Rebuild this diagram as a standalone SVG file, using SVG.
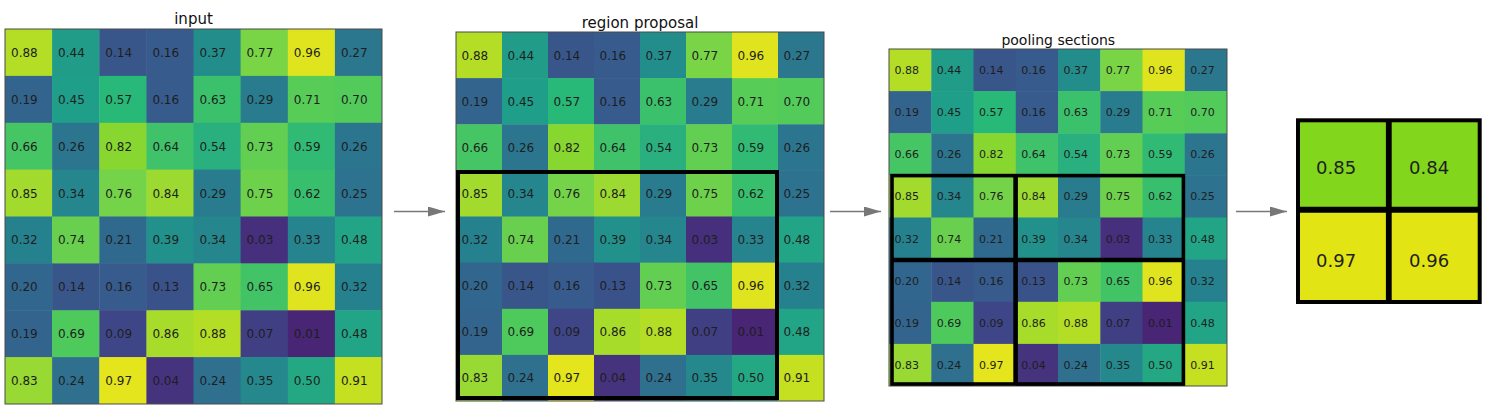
<svg xmlns="http://www.w3.org/2000/svg" width="1500" height="416" viewBox="0 0 1500 416">
<style>
text{font-family:"DejaVu Sans","Liberation Sans",sans-serif;fill:#1e1e1e}
.title{font-size:15px;text-anchor:middle;fill:#111}
.t1{font-size:12px}
.t3{font-size:11px}
.t4{font-size:18px}
.frame{fill:none;stroke:#4a4a4a;stroke-width:1}
.box{fill:none;stroke:#000}
.conn{stroke:#777;stroke-width:1.6;fill:none}
.c01{fill:#482575}.c03{fill:#462f7c}.c04{fill:#45337e}.c07{fill:#413f84}.c09{fill:#3f4687}
.c13{fill:#3a528a}.c14{fill:#39568b}.c16{fill:#365b8c}.c19{fill:#33648d}.c20{fill:#31678e}
.c21{fill:#30698e}.c24{fill:#2e708e}.c25{fill:#2d728e}.c26{fill:#2c758e}.c27{fill:#2b778e}
.c29{fill:#297b8e}.c32{fill:#26818e}.c33{fill:#26848e}.c34{fill:#25868d}.c35{fill:#24888d}
.c37{fill:#238d8c}.c39{fill:#22918b}.c44{fill:#209c89}.c45{fill:#1f9e89}.c48{fill:#22a586}
.c50{fill:#24a884}.c54{fill:#29b07e}.c57{fill:#28b877}.c59{fill:#30ba74}.c62{fill:#38bf6d}
.c63{fill:#3bc16b}.c64{fill:#3fc269}.c65{fill:#42c466}.c66{fill:#46c564}.c69{fill:#4ec95c}
.c70{fill:#52cb5a}.c71{fill:#57cc57}.c73{fill:#63cf52}.c74{fill:#69d04f}.c75{fill:#6ed14c}
.c76{fill:#74d349}.c77{fill:#79d446}.c82{fill:#88d630}.c83{fill:#98d934}.c84{fill:#9dda31}
.c85{fill:#a2db2e}.c86{fill:#a8dc2b}.c88{fill:#b4de26}.c91{fill:#c4e021}.c96{fill:#e0e41e}.c97{fill:#e4e51c}
.o1{fill:#82d61c}.o2{fill:#e3e414}
</style>
<defs>
<marker id="ah" viewBox="0 0 17 10" refX="17" refY="5" markerWidth="17" markerHeight="10" markerUnits="userSpaceOnUse" orient="auto">
<path d="M0,0 L17,5 L0,10 z" fill="#777"/>
</marker>
</defs>

<g id="input">
<text class="title" x="193.5" y="24">input</text>
<g id="input-cells">
<rect class="c88" x="5" y="29" width="47.6" height="47.4"/><rect class="c44" x="52.1" y="29" width="47.6" height="47.4"/><rect class="c14" x="99.3" y="29" width="47.6" height="47.4"/><rect class="c16" x="146.4" y="29" width="47.6" height="47.4"/><rect class="c37" x="193.5" y="29" width="47.6" height="47.4"/><rect class="c77" x="240.6" y="29" width="47.6" height="47.4"/><rect class="c96" x="287.8" y="29" width="47.6" height="47.4"/><rect class="c27" x="334.9" y="29" width="47.1" height="47.4"/>
<rect class="c19" x="5" y="75.9" width="47.6" height="47.4"/><rect class="c45" x="52.1" y="75.9" width="47.6" height="47.4"/><rect class="c57" x="99.3" y="75.9" width="47.6" height="47.4"/><rect class="c16" x="146.4" y="75.9" width="47.6" height="47.4"/><rect class="c63" x="193.5" y="75.9" width="47.6" height="47.4"/><rect class="c29" x="240.6" y="75.9" width="47.6" height="47.4"/><rect class="c71" x="287.8" y="75.9" width="47.6" height="47.4"/><rect class="c70" x="334.9" y="75.9" width="47.1" height="47.4"/>
<rect class="c66" x="5" y="122.8" width="47.6" height="47.4"/><rect class="c26" x="52.1" y="122.8" width="47.6" height="47.4"/><rect class="c82" x="99.3" y="122.8" width="47.6" height="47.4"/><rect class="c64" x="146.4" y="122.8" width="47.6" height="47.4"/><rect class="c54" x="193.5" y="122.8" width="47.6" height="47.4"/><rect class="c73" x="240.6" y="122.8" width="47.6" height="47.4"/><rect class="c59" x="287.8" y="122.8" width="47.6" height="47.4"/><rect class="c26" x="334.9" y="122.8" width="47.1" height="47.4"/>
<rect class="c85" x="5" y="169.6" width="47.6" height="47.4"/><rect class="c34" x="52.1" y="169.6" width="47.6" height="47.4"/><rect class="c76" x="99.3" y="169.6" width="47.6" height="47.4"/><rect class="c84" x="146.4" y="169.6" width="47.6" height="47.4"/><rect class="c29" x="193.5" y="169.6" width="47.6" height="47.4"/><rect class="c75" x="240.6" y="169.6" width="47.6" height="47.4"/><rect class="c62" x="287.8" y="169.6" width="47.6" height="47.4"/><rect class="c25" x="334.9" y="169.6" width="47.1" height="47.4"/>
<rect class="c32" x="5" y="216.5" width="47.6" height="47.4"/><rect class="c74" x="52.1" y="216.5" width="47.6" height="47.4"/><rect class="c21" x="99.3" y="216.5" width="47.6" height="47.4"/><rect class="c39" x="146.4" y="216.5" width="47.6" height="47.4"/><rect class="c34" x="193.5" y="216.5" width="47.6" height="47.4"/><rect class="c03" x="240.6" y="216.5" width="47.6" height="47.4"/><rect class="c33" x="287.8" y="216.5" width="47.6" height="47.4"/><rect class="c48" x="334.9" y="216.5" width="47.1" height="47.4"/>
<rect class="c20" x="5" y="263.4" width="47.6" height="47.4"/><rect class="c14" x="52.1" y="263.4" width="47.6" height="47.4"/><rect class="c16" x="99.3" y="263.4" width="47.6" height="47.4"/><rect class="c13" x="146.4" y="263.4" width="47.6" height="47.4"/><rect class="c73" x="193.5" y="263.4" width="47.6" height="47.4"/><rect class="c65" x="240.6" y="263.4" width="47.6" height="47.4"/><rect class="c96" x="287.8" y="263.4" width="47.6" height="47.4"/><rect class="c32" x="334.9" y="263.4" width="47.1" height="47.4"/>
<rect class="c19" x="5" y="310.3" width="47.6" height="47.4"/><rect class="c69" x="52.1" y="310.3" width="47.6" height="47.4"/><rect class="c09" x="99.3" y="310.3" width="47.6" height="47.4"/><rect class="c86" x="146.4" y="310.3" width="47.6" height="47.4"/><rect class="c88" x="193.5" y="310.3" width="47.6" height="47.4"/><rect class="c07" x="240.6" y="310.3" width="47.6" height="47.4"/><rect class="c01" x="287.8" y="310.3" width="47.6" height="47.4"/><rect class="c48" x="334.9" y="310.3" width="47.1" height="47.4"/>
<rect class="c83" x="5" y="357.1" width="47.6" height="46.9"/><rect class="c24" x="52.1" y="357.1" width="47.6" height="46.9"/><rect class="c97" x="99.3" y="357.1" width="47.6" height="46.9"/><rect class="c04" x="146.4" y="357.1" width="47.6" height="46.9"/><rect class="c24" x="193.5" y="357.1" width="47.6" height="46.9"/><rect class="c35" x="240.6" y="357.1" width="47.6" height="46.9"/><rect class="c50" x="287.8" y="357.1" width="47.6" height="46.9"/><rect class="c91" x="334.9" y="357.1" width="47.1" height="46.9"/>
</g>
<rect class="frame" x="5" y="29" width="377" height="375"/>
<g id="input-labels" class="t1">
<text x="11" y="56.8">0.88</text><text x="58.1" y="56.8">0.44</text><text x="105.3" y="56.8">0.14</text><text x="152.4" y="56.8">0.16</text><text x="199.5" y="56.8">0.37</text><text x="246.6" y="56.8">0.77</text><text x="293.8" y="56.8">0.96</text><text x="340.9" y="56.8">0.27</text>
<text x="11" y="103.7">0.19</text><text x="58.1" y="103.7">0.45</text><text x="105.3" y="103.7">0.57</text><text x="152.4" y="103.7">0.16</text><text x="199.5" y="103.7">0.63</text><text x="246.6" y="103.7">0.29</text><text x="293.8" y="103.7">0.71</text><text x="340.9" y="103.7">0.70</text>
<text x="11" y="150.6">0.66</text><text x="58.1" y="150.6">0.26</text><text x="105.3" y="150.6">0.82</text><text x="152.4" y="150.6">0.64</text><text x="199.5" y="150.6">0.54</text><text x="246.6" y="150.6">0.73</text><text x="293.8" y="150.6">0.59</text><text x="340.9" y="150.6">0.26</text>
<text x="11" y="197.5">0.85</text><text x="58.1" y="197.5">0.34</text><text x="105.3" y="197.5">0.76</text><text x="152.4" y="197.5">0.84</text><text x="199.5" y="197.5">0.29</text><text x="246.6" y="197.5">0.75</text><text x="293.8" y="197.5">0.62</text><text x="340.9" y="197.5">0.25</text>
<text x="11" y="244.3">0.32</text><text x="58.1" y="244.3">0.74</text><text x="105.3" y="244.3">0.21</text><text x="152.4" y="244.3">0.39</text><text x="199.5" y="244.3">0.34</text><text x="246.6" y="244.3">0.03</text><text x="293.8" y="244.3">0.33</text><text x="340.9" y="244.3">0.48</text>
<text x="11" y="291.2">0.20</text><text x="58.1" y="291.2">0.14</text><text x="105.3" y="291.2">0.16</text><text x="152.4" y="291.2">0.13</text><text x="199.5" y="291.2">0.73</text><text x="246.6" y="291.2">0.65</text><text x="293.8" y="291.2">0.96</text><text x="340.9" y="291.2">0.32</text>
<text x="11" y="338.1">0.19</text><text x="58.1" y="338.1">0.69</text><text x="105.3" y="338.1">0.09</text><text x="152.4" y="338.1">0.86</text><text x="199.5" y="338.1">0.88</text><text x="246.6" y="338.1">0.07</text><text x="293.8" y="338.1">0.01</text><text x="340.9" y="338.1">0.48</text>
<text x="11" y="385">0.83</text><text x="58.1" y="385">0.24</text><text x="105.3" y="385">0.97</text><text x="152.4" y="385">0.04</text><text x="199.5" y="385">0.24</text><text x="246.6" y="385">0.35</text><text x="293.8" y="385">0.50</text><text x="340.9" y="385">0.91</text>
</g>
</g>

<g id="region-proposal">
<text class="title" x="640" y="27.5">region proposal</text>
<g id="region-cells">
<rect class="c88" x="456" y="32" width="46.5" height="46.6"/><rect class="c44" x="502" y="32" width="46.5" height="46.6"/><rect class="c14" x="548" y="32" width="46.5" height="46.6"/><rect class="c16" x="594" y="32" width="46.5" height="46.6"/><rect class="c37" x="640" y="32" width="46.5" height="46.6"/><rect class="c77" x="686" y="32" width="46.5" height="46.6"/><rect class="c96" x="732" y="32" width="46.5" height="46.6"/><rect class="c27" x="778" y="32" width="46" height="46.6"/>
<rect class="c19" x="456" y="78.1" width="46.5" height="46.6"/><rect class="c45" x="502" y="78.1" width="46.5" height="46.6"/><rect class="c57" x="548" y="78.1" width="46.5" height="46.6"/><rect class="c16" x="594" y="78.1" width="46.5" height="46.6"/><rect class="c63" x="640" y="78.1" width="46.5" height="46.6"/><rect class="c29" x="686" y="78.1" width="46.5" height="46.6"/><rect class="c71" x="732" y="78.1" width="46.5" height="46.6"/><rect class="c70" x="778" y="78.1" width="46" height="46.6"/>
<rect class="c66" x="456" y="124.3" width="46.5" height="46.6"/><rect class="c26" x="502" y="124.3" width="46.5" height="46.6"/><rect class="c82" x="548" y="124.3" width="46.5" height="46.6"/><rect class="c64" x="594" y="124.3" width="46.5" height="46.6"/><rect class="c54" x="640" y="124.3" width="46.5" height="46.6"/><rect class="c73" x="686" y="124.3" width="46.5" height="46.6"/><rect class="c59" x="732" y="124.3" width="46.5" height="46.6"/><rect class="c26" x="778" y="124.3" width="46" height="46.6"/>
<rect class="c85" x="456" y="170.4" width="46.5" height="46.6"/><rect class="c34" x="502" y="170.4" width="46.5" height="46.6"/><rect class="c76" x="548" y="170.4" width="46.5" height="46.6"/><rect class="c84" x="594" y="170.4" width="46.5" height="46.6"/><rect class="c29" x="640" y="170.4" width="46.5" height="46.6"/><rect class="c75" x="686" y="170.4" width="46.5" height="46.6"/><rect class="c62" x="732" y="170.4" width="46.5" height="46.6"/><rect class="c25" x="778" y="170.4" width="46" height="46.6"/>
<rect class="c32" x="456" y="216.5" width="46.5" height="46.6"/><rect class="c74" x="502" y="216.5" width="46.5" height="46.6"/><rect class="c21" x="548" y="216.5" width="46.5" height="46.6"/><rect class="c39" x="594" y="216.5" width="46.5" height="46.6"/><rect class="c34" x="640" y="216.5" width="46.5" height="46.6"/><rect class="c03" x="686" y="216.5" width="46.5" height="46.6"/><rect class="c33" x="732" y="216.5" width="46.5" height="46.6"/><rect class="c48" x="778" y="216.5" width="46" height="46.6"/>
<rect class="c20" x="456" y="262.6" width="46.5" height="46.6"/><rect class="c14" x="502" y="262.6" width="46.5" height="46.6"/><rect class="c16" x="548" y="262.6" width="46.5" height="46.6"/><rect class="c13" x="594" y="262.6" width="46.5" height="46.6"/><rect class="c73" x="640" y="262.6" width="46.5" height="46.6"/><rect class="c65" x="686" y="262.6" width="46.5" height="46.6"/><rect class="c96" x="732" y="262.6" width="46.5" height="46.6"/><rect class="c32" x="778" y="262.6" width="46" height="46.6"/>
<rect class="c19" x="456" y="308.8" width="46.5" height="46.6"/><rect class="c69" x="502" y="308.8" width="46.5" height="46.6"/><rect class="c09" x="548" y="308.8" width="46.5" height="46.6"/><rect class="c86" x="594" y="308.8" width="46.5" height="46.6"/><rect class="c88" x="640" y="308.8" width="46.5" height="46.6"/><rect class="c07" x="686" y="308.8" width="46.5" height="46.6"/><rect class="c01" x="732" y="308.8" width="46.5" height="46.6"/><rect class="c48" x="778" y="308.8" width="46" height="46.6"/>
<rect class="c83" x="456" y="354.9" width="46.5" height="46.1"/><rect class="c24" x="502" y="354.9" width="46.5" height="46.1"/><rect class="c97" x="548" y="354.9" width="46.5" height="46.1"/><rect class="c04" x="594" y="354.9" width="46.5" height="46.1"/><rect class="c24" x="640" y="354.9" width="46.5" height="46.1"/><rect class="c35" x="686" y="354.9" width="46.5" height="46.1"/><rect class="c50" x="732" y="354.9" width="46.5" height="46.1"/><rect class="c91" x="778" y="354.9" width="46" height="46.1"/>
</g>
<rect class="frame" x="456" y="32" width="368" height="369"/>
<rect class="box" x="458" y="172" width="319" height="226" stroke-width="4"/>
<g id="region-labels" class="t1">
<text x="461.5" y="59.5">0.88</text><text x="507.5" y="59.5">0.44</text><text x="553.5" y="59.5">0.14</text><text x="599.5" y="59.5">0.16</text><text x="645.5" y="59.5">0.37</text><text x="691.5" y="59.5">0.77</text><text x="737.5" y="59.5">0.96</text><text x="783.5" y="59.5">0.27</text>
<text x="461.5" y="105.6">0.19</text><text x="507.5" y="105.6">0.45</text><text x="553.5" y="105.6">0.57</text><text x="599.5" y="105.6">0.16</text><text x="645.5" y="105.6">0.63</text><text x="691.5" y="105.6">0.29</text><text x="737.5" y="105.6">0.71</text><text x="783.5" y="105.6">0.70</text>
<text x="461.5" y="151.7">0.66</text><text x="507.5" y="151.7">0.26</text><text x="553.5" y="151.7">0.82</text><text x="599.5" y="151.7">0.64</text><text x="645.5" y="151.7">0.54</text><text x="691.5" y="151.7">0.73</text><text x="737.5" y="151.7">0.59</text><text x="783.5" y="151.7">0.26</text>
<text x="461.5" y="197.8">0.85</text><text x="507.5" y="197.8">0.34</text><text x="553.5" y="197.8">0.76</text><text x="599.5" y="197.8">0.84</text><text x="645.5" y="197.8">0.29</text><text x="691.5" y="197.8">0.75</text><text x="737.5" y="197.8">0.62</text><text x="783.5" y="197.8">0.25</text>
<text x="461.5" y="244">0.32</text><text x="507.5" y="244">0.74</text><text x="553.5" y="244">0.21</text><text x="599.5" y="244">0.39</text><text x="645.5" y="244">0.34</text><text x="691.5" y="244">0.03</text><text x="737.5" y="244">0.33</text><text x="783.5" y="244">0.48</text>
<text x="461.5" y="290.1">0.20</text><text x="507.5" y="290.1">0.14</text><text x="553.5" y="290.1">0.16</text><text x="599.5" y="290.1">0.13</text><text x="645.5" y="290.1">0.73</text><text x="691.5" y="290.1">0.65</text><text x="737.5" y="290.1">0.96</text><text x="783.5" y="290.1">0.32</text>
<text x="461.5" y="336.2">0.19</text><text x="507.5" y="336.2">0.69</text><text x="553.5" y="336.2">0.09</text><text x="599.5" y="336.2">0.86</text><text x="645.5" y="336.2">0.88</text><text x="691.5" y="336.2">0.07</text><text x="737.5" y="336.2">0.01</text><text x="783.5" y="336.2">0.48</text>
<text x="461.5" y="382.3">0.83</text><text x="507.5" y="382.3">0.24</text><text x="553.5" y="382.3">0.97</text><text x="599.5" y="382.3">0.04</text><text x="645.5" y="382.3">0.24</text><text x="691.5" y="382.3">0.35</text><text x="737.5" y="382.3">0.50</text><text x="783.5" y="382.3">0.91</text>
</g>
</g>

<g id="pooling-sections">
<text class="title" x="1058.3" y="44.5" style="font-size:14px">pooling sections</text>
<g id="pooling-cells">
<rect class="c88" x="889" y="49" width="42.7" height="42.6"/><rect class="c44" x="931.3" y="49" width="42.7" height="42.6"/><rect class="c14" x="973.5" y="49" width="42.7" height="42.6"/><rect class="c16" x="1015.8" y="49" width="42.7" height="42.6"/><rect class="c37" x="1058" y="49" width="42.7" height="42.6"/><rect class="c77" x="1100.3" y="49" width="42.7" height="42.6"/><rect class="c96" x="1142.5" y="49" width="42.7" height="42.6"/><rect class="c27" x="1184.8" y="49" width="42.2" height="42.6"/>
<rect class="c19" x="889" y="91.1" width="42.7" height="42.6"/><rect class="c45" x="931.3" y="91.1" width="42.7" height="42.6"/><rect class="c57" x="973.5" y="91.1" width="42.7" height="42.6"/><rect class="c16" x="1015.8" y="91.1" width="42.7" height="42.6"/><rect class="c63" x="1058" y="91.1" width="42.7" height="42.6"/><rect class="c29" x="1100.3" y="91.1" width="42.7" height="42.6"/><rect class="c71" x="1142.5" y="91.1" width="42.7" height="42.6"/><rect class="c70" x="1184.8" y="91.1" width="42.2" height="42.6"/>
<rect class="c66" x="889" y="133.3" width="42.7" height="42.6"/><rect class="c26" x="931.3" y="133.3" width="42.7" height="42.6"/><rect class="c82" x="973.5" y="133.3" width="42.7" height="42.6"/><rect class="c64" x="1015.8" y="133.3" width="42.7" height="42.6"/><rect class="c54" x="1058" y="133.3" width="42.7" height="42.6"/><rect class="c73" x="1100.3" y="133.3" width="42.7" height="42.6"/><rect class="c59" x="1142.5" y="133.3" width="42.7" height="42.6"/><rect class="c26" x="1184.8" y="133.3" width="42.2" height="42.6"/>
<rect class="c85" x="889" y="175.4" width="42.7" height="42.6"/><rect class="c34" x="931.3" y="175.4" width="42.7" height="42.6"/><rect class="c76" x="973.5" y="175.4" width="42.7" height="42.6"/><rect class="c84" x="1015.8" y="175.4" width="42.7" height="42.6"/><rect class="c29" x="1058" y="175.4" width="42.7" height="42.6"/><rect class="c75" x="1100.3" y="175.4" width="42.7" height="42.6"/><rect class="c62" x="1142.5" y="175.4" width="42.7" height="42.6"/><rect class="c25" x="1184.8" y="175.4" width="42.2" height="42.6"/>
<rect class="c32" x="889" y="217.5" width="42.7" height="42.6"/><rect class="c74" x="931.3" y="217.5" width="42.7" height="42.6"/><rect class="c21" x="973.5" y="217.5" width="42.7" height="42.6"/><rect class="c39" x="1015.8" y="217.5" width="42.7" height="42.6"/><rect class="c34" x="1058" y="217.5" width="42.7" height="42.6"/><rect class="c03" x="1100.3" y="217.5" width="42.7" height="42.6"/><rect class="c33" x="1142.5" y="217.5" width="42.7" height="42.6"/><rect class="c48" x="1184.8" y="217.5" width="42.2" height="42.6"/>
<rect class="c20" x="889" y="259.6" width="42.7" height="42.6"/><rect class="c14" x="931.3" y="259.6" width="42.7" height="42.6"/><rect class="c16" x="973.5" y="259.6" width="42.7" height="42.6"/><rect class="c13" x="1015.8" y="259.6" width="42.7" height="42.6"/><rect class="c73" x="1058" y="259.6" width="42.7" height="42.6"/><rect class="c65" x="1100.3" y="259.6" width="42.7" height="42.6"/><rect class="c96" x="1142.5" y="259.6" width="42.7" height="42.6"/><rect class="c32" x="1184.8" y="259.6" width="42.2" height="42.6"/>
<rect class="c19" x="889" y="301.8" width="42.7" height="42.6"/><rect class="c69" x="931.3" y="301.8" width="42.7" height="42.6"/><rect class="c09" x="973.5" y="301.8" width="42.7" height="42.6"/><rect class="c86" x="1015.8" y="301.8" width="42.7" height="42.6"/><rect class="c88" x="1058" y="301.8" width="42.7" height="42.6"/><rect class="c07" x="1100.3" y="301.8" width="42.7" height="42.6"/><rect class="c01" x="1142.5" y="301.8" width="42.7" height="42.6"/><rect class="c48" x="1184.8" y="301.8" width="42.2" height="42.6"/>
<rect class="c83" x="889" y="343.9" width="42.7" height="42.1"/><rect class="c24" x="931.3" y="343.9" width="42.7" height="42.1"/><rect class="c97" x="973.5" y="343.9" width="42.7" height="42.1"/><rect class="c04" x="1015.8" y="343.9" width="42.7" height="42.1"/><rect class="c24" x="1058" y="343.9" width="42.7" height="42.1"/><rect class="c35" x="1100.3" y="343.9" width="42.7" height="42.1"/><rect class="c50" x="1142.5" y="343.9" width="42.7" height="42.1"/><rect class="c91" x="1184.8" y="343.9" width="42.2" height="42.1"/>
</g>
<rect class="frame" x="889" y="49" width="338" height="337"/>
<rect class="box" x="892" y="175.6" width="291.4" height="208.4" stroke-width="3.6"/>
<line class="box" x1="1015.6" y1="175.6" x2="1015.6" y2="384" stroke-width="4.6"/>
<line class="box" x1="892" y1="260" x2="1183.4" y2="260" stroke-width="4.4"/>
<g id="pooling-labels" class="t3">
<text x="894.5" y="74.1">0.88</text><text x="936.8" y="74.1">0.44</text><text x="979" y="74.1">0.14</text><text x="1021.3" y="74.1">0.16</text><text x="1063.5" y="74.1">0.37</text><text x="1105.8" y="74.1">0.77</text><text x="1148" y="74.1">0.96</text><text x="1190.3" y="74.1">0.27</text>
<text x="894.5" y="116.2">0.19</text><text x="936.8" y="116.2">0.45</text><text x="979" y="116.2">0.57</text><text x="1021.3" y="116.2">0.16</text><text x="1063.5" y="116.2">0.63</text><text x="1105.8" y="116.2">0.29</text><text x="1148" y="116.2">0.71</text><text x="1190.3" y="116.2">0.70</text>
<text x="894.5" y="158.3">0.66</text><text x="936.8" y="158.3">0.26</text><text x="979" y="158.3">0.82</text><text x="1021.3" y="158.3">0.64</text><text x="1063.5" y="158.3">0.54</text><text x="1105.8" y="158.3">0.73</text><text x="1148" y="158.3">0.59</text><text x="1190.3" y="158.3">0.26</text>
<text x="894.5" y="200.4">0.85</text><text x="936.8" y="200.4">0.34</text><text x="979" y="200.4">0.76</text><text x="1021.3" y="200.4">0.84</text><text x="1063.5" y="200.4">0.29</text><text x="1105.8" y="200.4">0.75</text><text x="1148" y="200.4">0.62</text><text x="1190.3" y="200.4">0.25</text>
<text x="894.5" y="242.6">0.32</text><text x="936.8" y="242.6">0.74</text><text x="979" y="242.6">0.21</text><text x="1021.3" y="242.6">0.39</text><text x="1063.5" y="242.6">0.34</text><text x="1105.8" y="242.6">0.03</text><text x="1148" y="242.6">0.33</text><text x="1190.3" y="242.6">0.48</text>
<text x="894.5" y="284.7">0.20</text><text x="936.8" y="284.7">0.14</text><text x="979" y="284.7">0.16</text><text x="1021.3" y="284.7">0.13</text><text x="1063.5" y="284.7">0.73</text><text x="1105.8" y="284.7">0.65</text><text x="1148" y="284.7">0.96</text><text x="1190.3" y="284.7">0.32</text>
<text x="894.5" y="326.8">0.19</text><text x="936.8" y="326.8">0.69</text><text x="979" y="326.8">0.09</text><text x="1021.3" y="326.8">0.86</text><text x="1063.5" y="326.8">0.88</text><text x="1105.8" y="326.8">0.07</text><text x="1148" y="326.8">0.01</text><text x="1190.3" y="326.8">0.48</text>
<text x="894.5" y="368.9">0.83</text><text x="936.8" y="368.9">0.24</text><text x="979" y="368.9">0.97</text><text x="1021.3" y="368.9">0.04</text><text x="1063.5" y="368.9">0.24</text><text x="1105.8" y="368.9">0.35</text><text x="1148" y="368.9">0.50</text><text x="1190.3" y="368.9">0.91</text>
</g>
</g>

<g id="pooled-output">
<rect class="o1" x="1298" y="120" width="91" height="90"/>
<rect class="o1" x="1389" y="120" width="91" height="90"/>
<rect class="o2" x="1298" y="210" width="91" height="92"/>
<rect class="o2" x="1389" y="210" width="91" height="92"/>
<rect class="box" x="1298" y="120.3" width="181.7" height="181.7" stroke-width="4"/>
<line class="box" x1="1388.8" y1="120.3" x2="1388.8" y2="302" stroke-width="5.8"/>
<line class="box" x1="1298" y1="209.7" x2="1479.7" y2="209.7" stroke-width="6"/>
<g class="t4">
<text x="1316" y="174">0.85</text><text x="1409" y="174">0.84</text>
<text x="1316" y="267">0.97</text><text x="1409" y="267">0.96</text>
</g>
</g>

<g id="connectors">
<line class="conn" x1="394" y1="211.5" x2="445" y2="211.5" marker-end="url(#ah)"/>
<line class="conn" x1="830" y1="211.5" x2="881" y2="211.5" marker-end="url(#ah)"/>
<line class="conn" x1="1236" y1="211.5" x2="1287" y2="211.5" marker-end="url(#ah)"/>
</g>
</svg>
